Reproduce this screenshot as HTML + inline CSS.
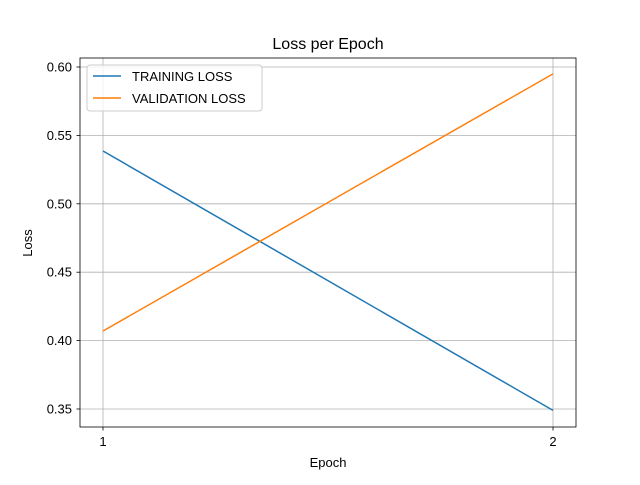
<!DOCTYPE html>
<html><head><meta charset="utf-8"><style>
body{margin:0;background:#fff}
text{font-family:"Liberation Sans","DejaVu Sans",sans-serif;fill:#000}
</style></head><body>
<svg id="chart" width="640" height="480" xmlns="http://www.w3.org/2000/svg">
<rect width="640" height="480" fill="#fff"/>
<g id="grid"></g>
<g id="series"></g>
<rect x="80" y="58" width="496" height="369" fill="none" stroke="#000" stroke-width="0.8"/>
<g id="ticks"></g>
<text x="328" y="49" font-size="16" text-anchor="middle">Loss per Epoch</text>
<text x="328" y="467" font-size="13" text-anchor="middle">Epoch</text>
<text x="32" y="243" font-size="13" text-anchor="middle" transform="rotate(-90 32 243)">Loss</text>
<g>
<rect x="87" y="65" width="175" height="46" rx="3" fill="#fff" fill-opacity="0.8" stroke="#ccc"/>
<line x1="93" y1="76" x2="121" y2="76" stroke="#1f77b4" stroke-width="1.5"/>
<text x="132" y="81" font-size="13">TRAINING LOSS</text>
<line x1="93" y1="98" x2="121" y2="98" stroke="#ff7f0e" stroke-width="1.5"/>
<text x="132" y="103" font-size="13">VALIDATION LOSS</text>
</g>
</svg>
<script>
const epochs=[1,2];
const trainingLoss=[0.5386,0.349];
const validationLoss=[0.407,0.595];
const yTicks=[0.35,0.40,0.45,0.50,0.55,0.60];
const xTicks=[1,2];
const NS="http://www.w3.org/2000/svg";
const xs=v=>103+(v-1)*450;
const ys=v=>409-(v-0.35)*1368;
function mk(tag,attrs,parent){const e=document.createElementNS(NS,tag);for(const k in attrs)e.setAttribute(k,attrs[k]);document.getElementById(parent).appendChild(e);return e;}
yTicks.forEach(t=>{const y=ys(t);
const g=mk('line',{x1:80,x2:576,y1:y,y2:y,stroke:'#b0b0b0','stroke-width':0.8},'grid');


mk('line',{x1:76.5,x2:80,y1:y,y2:y,stroke:'#000','stroke-width':0.8},'ticks');
const l=mk('text',{x:72,y:y+4.5,'font-size':13,'text-anchor':'end'},'ticks');l.textContent=t.toFixed(2);

});
xTicks.forEach(t=>{const x=xs(t);
const g=mk('line',{x1:x,x2:x,y1:58,y2:427,stroke:'#b0b0b0','stroke-width':0.8},'grid');


mk('line',{x1:x,x2:x,y1:427,y2:430.5,stroke:'#000','stroke-width':0.8},'ticks');
const l=mk('text',{x:x,y:446,'font-size':13,'text-anchor':'middle'},'ticks');l.textContent=t;

});
[[trainingLoss,'#1f77b4','training-loss-line'],[validationLoss,'#ff7f0e','validation-loss-line']].forEach(([d,c,n])=>{
const p=mk('polyline',{points:d.map((v,i)=>xs(epochs[i])+','+ys(v)).join(' '),fill:'none',stroke:c,'stroke-width':1.5},'series');

});
</script>
</body></html>
